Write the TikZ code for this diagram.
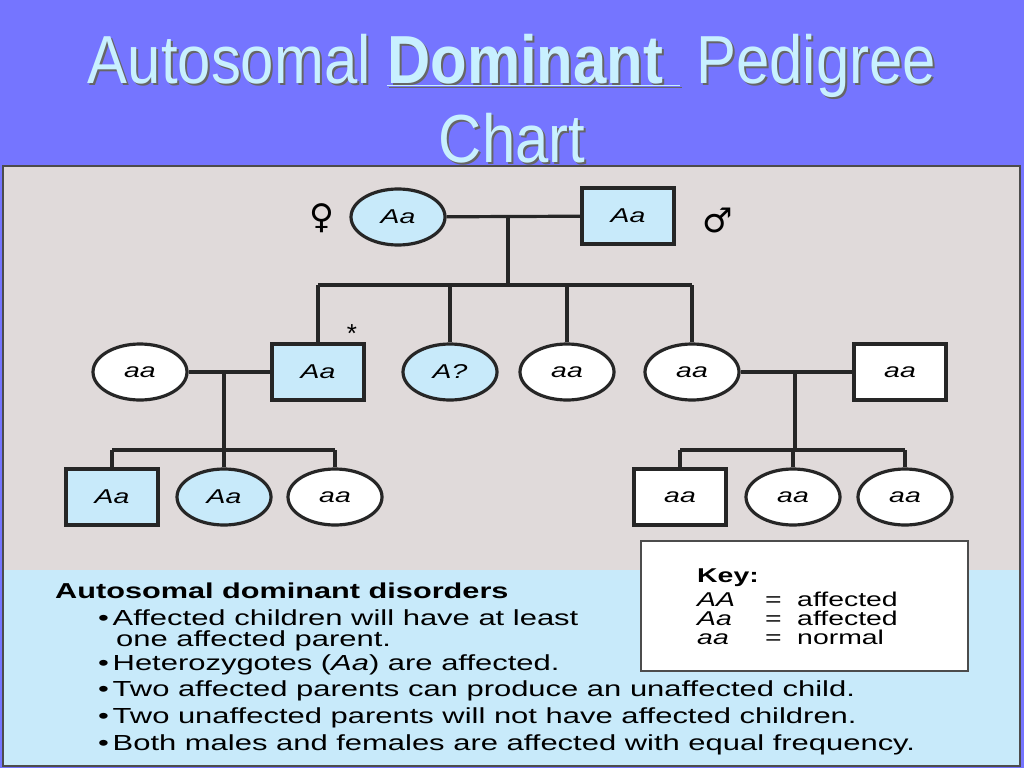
\documentclass[tikz,border=0pt]{standalone}
\usepackage{fontspec}
\setmainfont{Liberation Sans}
\newfontfamily\symfont{DejaVu Sans}
\newfontfamily\widefont[FakeStretch=1.42]{Liberation Sans}
\newfontfamily\titlefont[FakeStretch=0.88]{Liberation Sans}
\usepackage{tikz}
\definecolor{titlebar}{RGB}{117,117,255}
\definecolor{titletext}{RGB}{200,240,255}
\definecolor{panelgrey}{RGB}{224,218,218}
\definecolor{panelblue}{RGB}{200,234,250}
\definecolor{affected}{RGB}{200,234,250}
\tikzset{
  female/.style={ellipse, draw=black!85, line width=3.2pt, minimum width=94pt, minimum height=56pt, inner sep=0pt, font=\widefont\itshape\fontsize{20}{20}\selectfont},
  male/.style={rectangle, draw=black!85, line width=3.2pt, minimum width=92pt, minimum height=56pt, inner sep=0pt, font=\widefont\itshape\fontsize{20}{20}\selectfont},
  ill/.style={fill=affected},
  well/.style={fill=white},
  link/.style={draw=black!85, line width=3.2pt},
  bodytext/.style={anchor=west, inner sep=0pt, text height=14pt, text depth=3pt, font=\widefont\fontsize{21.8}{22}\selectfont},
  keytext/.style={bodytext, text height=12pt, text depth=2pt, font=\widefont\fontsize{20}{20}\selectfont},
}
\usetikzlibrary{shapes.geometric}
\begin{document}
\begin{tikzpicture}[x=1pt,y=-1pt]
      \useasboundingbox (0,0) rectangle (1024,768);
      \fill [titlebar] (0,0) rectangle (1024,768);
      \fill [panelgrey] (3,166) rectangle (1020,570);
      \fill [panelblue] (3,570) rectangle (1020,766);
      \draw [black!70, line width=1.5pt] (3,166) rectangle (1020,766);

      % title
      \foreach \dx/\col in {2/black!60, 0/titletext} {
        \node [text=\col, font=\titlefont\fontsize{68}{68}\selectfont] at (512+\dx,66+\dx) {Autosomal \underline{\textbf{Dominant }} Pedigree};
        \node [text=\col, font=\titlefont\fontsize{68}{68}\selectfont] at (512+\dx,138+\dx) {Chart};
      }

      % generation I
      \node [female, ill] (m1) at (398,217) {Aa};
      \node [male, ill] (f1) at (628,216) {Aa};
      \node [font=\symfont\fontsize{34}{34}\selectfont] at (322,218) {♀};
      \node [font=\symfont\fontsize{34}{34}\selectfont] at (718,220) {♂};
      \coordinate (c1) at (508,217);
      \coordinate (s1) at (508,285);

      % generation II
      \node [female, well] (w2) at (140,372) {aa};
      \node [male, ill] (b2) at (318,372) {Aa};
      \node [female, ill] (q2) at (450,372) {A?};
      \node [female, well] (d2) at (567,372) {aa};
      \node [female, well] (e2) at (692,372) {aa};
      \node [male, well] (h2) at (900,372) {aa};
      \node [font=\fontsize{26}{26}\selectfont] at (352,334) {*};

      \draw [link] (m1) -- (f1);
      \draw [link] (c1) -- (s1);
      \draw [link] (b2.north |- s1) -- (e2.north |- s1);
      \foreach \n in {b2,q2,d2,e2}
        \draw [link] (\n.north |- s1) -- (\n.north);

      % generation III, left
      \node [male, ill] (a3) at (112,497) {Aa};
      \node [female, ill] (b3) at (224,497) {Aa};
      \node [female, well] (c3) at (335,497) {aa};
      \coordinate (l2) at (224,372);
      \coordinate (l3) at (224,450);
      \draw [link] (w2) -- (b2);
      \draw [link] (l2) -- (l3);
      \draw [link] (a3.north |- l3) -- (c3.north |- l3);
      \foreach \n in {a3,b3,c3}
        \draw [link] (\n.north |- l3) -- (\n.north);

      % generation III, right
      \node [male, well] (d3) at (680,497) {aa};
      \node [female, well] (e3) at (793,497) {aa};
      \node [female, well] (f3) at (905,497) {aa};
      \coordinate (r2) at (795,372);
      \coordinate (r3) at (795,450);
      \draw [link] (e2) -- (h2);
      \draw [link] (r2) -- (r3);
      \draw [link] (d3.north |- r3) -- (f3.north |- r3);
      \foreach \n in {d3,e3,f3}
        \draw [link] (\n.north |- r3) -- (\n.north);

      % key
      \draw [black!70, fill=white, line width=1.2pt] (641,541) rectangle (968,671);
      \node [bodytext, font=\widefont\bfseries\fontsize{20}{20}\selectfont] (key) at (697,577) {Key:};
      \foreach \g/\t/\y in {AA/affected/601, Aa/affected/620, aa/normal/639} {
        \node [keytext] at (697,\y) {\textit{\g}};
        \node [keytext] at (765,\y) {=};
        \node [keytext] at (797,\y) {\t};
      }

      % notes
      \node [bodytext, font=\widefont\bfseries\fontsize{21.6}{22}\selectfont] at (55,593) {Autosomal dominant disorders};
      \foreach \y/\t in {666/Heterozygotes (\textit{Aa}) are affected.,
                         692/Two affected parents can produce an unaffected child.,
                         719/Two unaffected parents will not have affected children.,
                         746/Both males and females are affected with equal frequency.}
        \node [bodytext, text height=13pt, text depth=4pt] at (98,\y) {\textbullet\,\t};
      \node [keytext, font=\widefont\fontsize{21.8}{22}\selectfont] at (98,620) {\textbullet\,Affected children will have at least};
      \node [keytext, font=\widefont\fontsize{21.8}{22}\selectfont] at (116,641) {one affected parent.};
\end{tikzpicture}
\end{document}
